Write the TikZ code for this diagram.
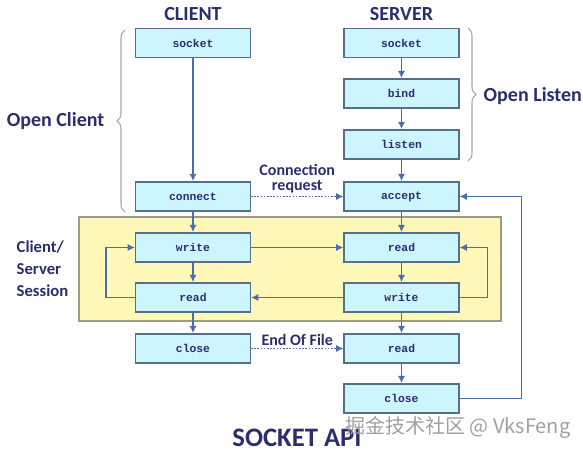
\documentclass[tikz,border=0pt]{standalone}
\usepackage{fontspec}
\setmainfont{Carlito}
\newfontfamily\boxfont{Liberation Mono}
\newfontfamily\cjkfont{Noto Sans CJK SC}
\usetikzlibrary{arrows.meta, decorations.pathreplacing}

\definecolor{navy}{HTML}{2B2D6E}
\definecolor{flow}{HTML}{4A6FA8}
\definecolor{boxfill}{HTML}{CCF5FD}
\definecolor{boxline}{HTML}{55708A}
\definecolor{session}{HTML}{FFF8B8}
\definecolor{sessionline}{HTML}{9C9C84}

\tikzset{
  call/.style={draw=boxline, fill=boxfill, line width=1.1pt, minimum width=86pt, minimum height=22pt,
    inner sep=0pt, font=\boxfont\bfseries\fontsize{8.5}{10}\selectfont, text=navy},
  flowarrow/.style={-{Latex[length=5.5pt,width=5.5pt]}, draw=flow, line width=1.2pt},
  signal/.style={-{Latex[length=5.5pt,width=5.5pt]}, draw=flow, line width=1pt, dash pattern=on 1.2pt off 1.2pt},
  label/.style={text=navy, font=\bfseries\fontsize{15}{17}\selectfont},
  smalllabel/.style={text=navy, font=\bfseries\fontsize{12}{11.5}\selectfont, align=center},
  brace/.style={draw=gray!70, line width=0.8pt, decorate, decoration={brace, amplitude=6pt}}
}

\begin{document}
\begin{tikzpicture}[x=0.75pt, y=-0.75pt]
	\useasboundingbox (0,0) rectangle (583,456);
	\def\cx{193}
	\def\sx{401.5}
	
	% Session area
	\draw[draw=sessionline, fill=session, line width=1pt] (79,217) rectangle (501,321);
	
	% Client side
	\node[call] (csocket) at (\cx,43) {socket};
	\node[call] (cconnect) at (\cx,196.5) {connect};
	\node[call] (cwrite) at (\cx,247.5) {write};
	\node[call] (cread) at (\cx,297.5) {read};
	\node[call] (cclose) at (\cx,348.5) {close};
	
	% Server side
	\node[call] (ssocket) at (\sx,43) {socket};
	\node[call] (sbind) at (\sx,93.5) {bind};
	\node[call] (slisten) at (\sx,144.5) {listen};
	\node[call] (saccept) at (\sx,196.5) {accept};
	\node[call] (sread) at (\sx,247.5) {read};
	\node[call] (swrite) at (\sx,297.5) {write};
	\node[call] (seof) at (\sx,348.5) {read};
	\node[call] (sclose) at (\sx,398.5) {close};
	
	% Headers and titles
	\node[label] (client) at (\cx,14) {CLIENT};
	\node[label] (server) at (\sx,14) {SERVER};
	\node[label, anchor=east] (openclient) at (109,121) {Open Client};
	\node[label, anchor=west] (openlisten) at (479,96) {Open Listen};
	\node[smalllabel, align=left, anchor=west, font=\bfseries\fontsize{12.5}{16.5}\selectfont] (sessionlbl) at (12,269) {Client/\\Server\\Session};
	\node[text=navy, font=\bfseries\fontsize{20}{22}\selectfont] (title) at (297,438) {SOCKET API};
	
	% Braces
	\draw[brace] (125,212) -- (125,30);
	\draw[brace] (468,28) -- (468,161);
	
	% Client flow
	\draw[flowarrow] (csocket) -- (cconnect);
	\draw[flowarrow] (cconnect) -- (cwrite);
	\draw[flowarrow] (cwrite) -- (cread);
	\draw[flowarrow] (cread) -- (cclose);
	\draw[flowarrow] (cread.west) -- ++(-29,0) |- (cwrite.west);
	
	% Server flow
	\draw[flowarrow] (ssocket) -- (sbind);
	\draw[flowarrow] (sbind) -- (slisten);
	\draw[flowarrow] (slisten) -- (saccept);
	\draw[flowarrow] (saccept) -- (sread);
	\draw[flowarrow] (sread) -- (swrite);
	\draw[flowarrow] (swrite) -- (seof);
	\draw[flowarrow] (seof) -- (sclose);
	\draw[flowarrow] (swrite.east) -- ++(28,0) |- (sread.east);
	\draw[flowarrow] (sclose.east) -- ++(62,0) |- (saccept.east);
	
	% Between client and server
	\draw[flowarrow] (cwrite.east) -- (sread.west);
	\draw[flowarrow] (swrite.west) -- (cread.east);
	\draw[signal] (cconnect.east) -- (saccept.west) node[midway, smalllabel, anchor=south, yshift=-1.5pt] {Connection\\request};
	\draw[signal] (cclose.east) -- (seof.west) node[midway, smalllabel, anchor=south, yshift=-2pt] {End Of File};
	
	% Watermark
	\node[text=gray!75, font=\cjkfont\fontsize{15}{17}\selectfont, anchor=west, inner sep=0pt] (mark) at (345,428) {掘金技术社区 @ VksFeng};
\end{tikzpicture}
\end{document}
